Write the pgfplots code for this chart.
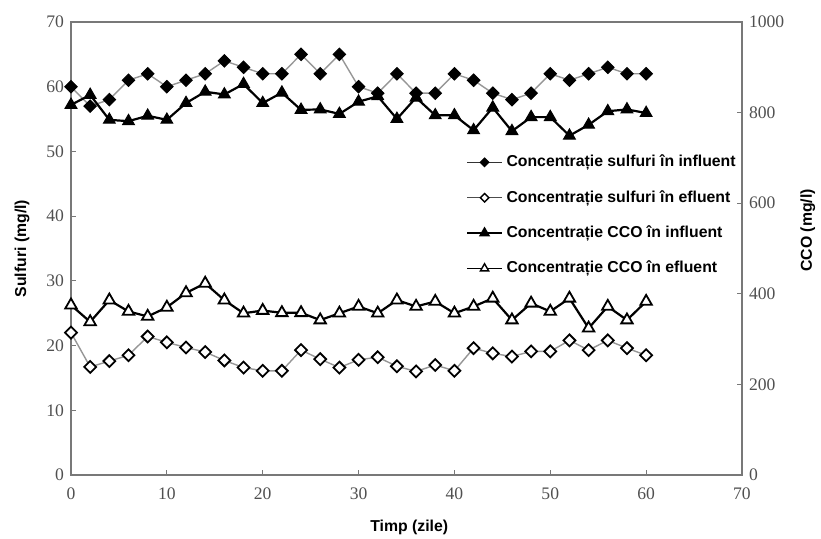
\documentclass[border=0pt]{standalone}
\usepackage{fontspec}
\setmainfont{Liberation Serif}
\newfontfamily\arialf{Liberation Sans}
\usepackage{pgfplots}
\pgfplotsset{compat=1.18}
\usepackage{pgfplotstable}

\pgfplotstableread{
x s_in s_ef
0 60 22.0
2 57 16.7
4 58 17.6
6 61 18.5
8 62 21.4
10 60 20.5
12 61 19.7
14 62 19.0
16 64 17.7
18 63 16.6
20 62 16.1
22 62 16.1
24 65 19.3
26 62 17.9
28 65 16.6
30 60 17.8
32 59 18.2
34 62 16.8
36 59 16.0
38 59 17.0
40 62 16.1
42 61 19.6
44 59 18.8
46 58 18.3
48 59 19.1
50 62 19.1
52 61 20.8
54 62 19.3
56 63 20.8
58 62 19.6
60 62 18.5
}\sulf

\pgfplotstableread{
x c_in c_ef
0 817 375
2 839 338
4 784 386
6 781 361
8 793 350
10 784 370
12 821 402
14 846 423
16 840 386
18 863 357
20 821 363
22 844 358
24 806 358
26 807 342
28 797 357
30 824 372
32 836 357
34 786 386
36 833 372
38 794 383
40 794 357
42 761 372
44 811 390
46 759 342
48 790 379
50 790 361
52 749 390
54 773 324
56 803 372
58 807 342
60 799 383
}\cco

\definecolor{axgray}{RGB}{120,120,120}
\definecolor{tickgray}{RGB}{80,80,80}
\definecolor{linegray}{RGB}{150,150,150}

\pgfplotsset{
  common/.style={
    scale only axis, width=335.5pt, height=226.5pt,
    xmin=0, xmax=70,
    tick align=inside, major tick length=2.5pt,
    axis line style={axgray, line width=0.6pt},
    tick style={axgray, line width=0.6pt},
    /pgf/number format/assume math mode=true,
    /pgf/number format/1000 sep={},
    tick label style={font=\fontsize{8.8}{10}\selectfont, text=tickgray},
    label style={font=\arialf\bfseries\fontsize{7.9}{9}\selectfont},
  },
  sin/.style={linegray, line width=0.7pt, mark=square*, mark size=2.2pt, mark options={rotate=45, fill=black, draw=black, solid, line width=0.5pt}},
  sef/.style={linegray, line width=0.7pt, mark=square*, mark size=2.1pt, mark options={rotate=45, fill=white, draw=black, solid, line width=0.9pt}},
  cin/.style={black, line width=1.1pt, mark=triangle*, mark size=3.4pt, mark options={fill=black, draw=black, solid, line width=0.5pt}},
  cef/.style={black, line width=1.1pt, mark=triangle*, mark size=3.3pt, mark options={fill=white, draw=black, solid, line width=0.9pt}},
  lsin/.style={black!80, line width=0.6pt, mark=square*, mark size=1.5pt, mark options={rotate=45, fill=black, draw=black, solid}},
  lsef/.style={black!70, line width=0.6pt, mark=square*, mark size=1.5pt, mark options={rotate=45, fill=white, draw=black, solid, line width=0.7pt}},
  lcin/.style={black, line width=0.9pt, mark=triangle*, mark size=2.4pt, mark options={fill=black, draw=black, solid}},
  lcef/.style={black, line width=0.9pt, mark=triangle*, mark size=2.4pt, mark options={fill=white, draw=black, solid, line width=0.7pt}},
}

\begin{document}
\begin{tikzpicture}
\begin{axis}[common,
  ymin=0, ymax=70,
  xtick={0,10,...,70}, ytick={0,10,...,70},
  xtick pos=bottom, ytick pos=left,
  xticklabel style={yshift=-3pt},
  xlabel={Timp (zile)}, ylabel={Sulfuri (mg/l)},
  xlabel style={at={(axis description cs:0.504,0)}, anchor=center, yshift=-26pt},
  ylabel style={at={(axis description cs:-0.073,0.5)}, anchor=center, rotate=0},
]
\addplot[sin] table[x=x, y=s_in] {\sulf};
\addplot[sef] table[x=x, y=s_ef] {\sulf};
\end{axis}
\begin{axis}[common,
  ymin=0, ymax=1000,
  ytick={0,200,...,1000},
  axis y line*=right, axis x line=none,
  ylabel={CCO (mg/l)},
  ylabel style={at={(axis description cs:1.098,0.54)}, anchor=center, rotate=0},
  legend style={at={(0.58,0.725)}, anchor=north west, draw=none, fill=none,
    font=\arialf\bfseries\fontsize{7.9}{9}\selectfont, row sep=6.3pt},
  legend cell align=left,
]
\addlegendimage{lsin}
\addlegendentry{Concentrație sulfuri în influent}
\addlegendimage{lsef}
\addlegendentry{Concentrație sulfuri în efluent}
\addlegendimage{lcin}
\addlegendentry{Concentrație CCO în influent}
\addlegendimage{lcef}
\addlegendentry{Concentrație CCO în efluent}
\addplot[cin, forget plot] table[x=x, y=c_in] {\cco};
\addplot[cef, forget plot] table[x=x, y=c_ef] {\cco};
\end{axis}
\pgfresetboundingbox
\path (-35.5pt,-32pt) rectangle (375pt,237.5pt);
\end{tikzpicture}
\end{document}
